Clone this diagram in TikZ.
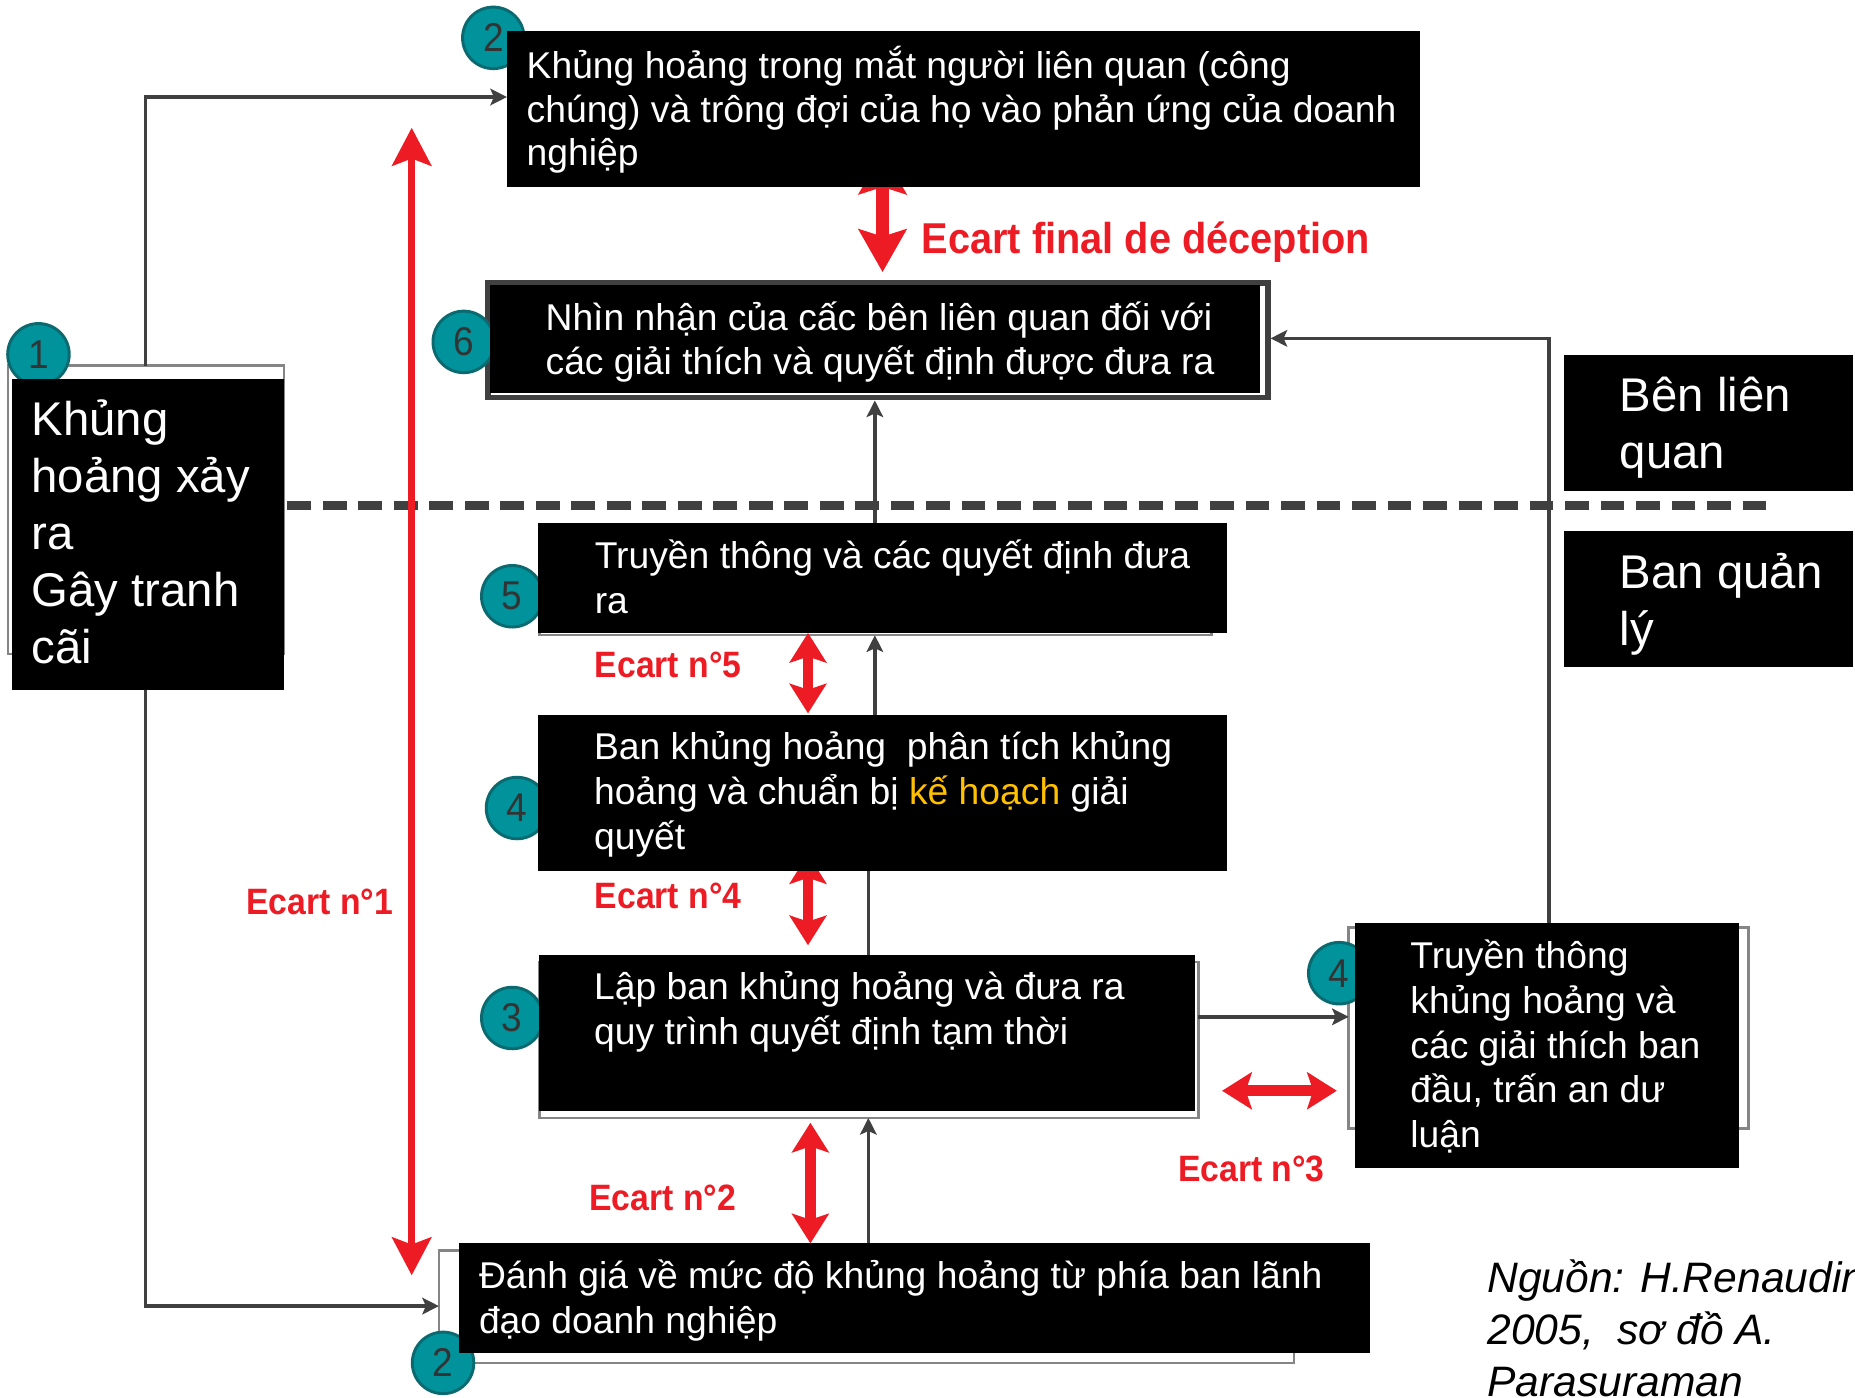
\documentclass[tikz,border=0pt]{standalone}
\usepackage{fontspec}
\setmainfont{Liberation Sans}
\newfontfamily\ecfont{Liberation Sans}[FakeStretch=0.92]
\usetikzlibrary{arrows.meta}
\definecolor{teala}{HTML}{00939B}
\definecolor{tealb}{HTML}{0B6A70}
\definecolor{dg}{HTML}{404040}
\definecolor{fr}{HTML}{858585}
\definecolor{rd}{HTML}{ED1C24}
\definecolor{yl}{HTML}{FFC000}
\definecolor{numc}{HTML}{333333}
\newcommand{\fs}{\rule{0pt}{1.2em}}
\newcommand{\nols}{\setlength{\lineskiplimit}{-1000pt}}
\newcommand{\fA}{\fontsize{31.5}{38}\selectfont\nols}
\newcommand{\fAs}{\fontsize{31.5}{37}\selectfont\nols}
\newcommand{\fAm}{\fontsize{31.5}{37.8}\selectfont\nols}
\newcommand{\fB}{\fontsize{40}{48.2}\selectfont\nols}
\newcommand{\fBs}{\fontsize{40}{48}\selectfont\nols}
\newcommand{\fSrc}{\itshape\fontsize{36}{44}\selectfont\nols}
\newcommand{\fEc}{\ecfont\bfseries\fontsize{31}{31}\selectfont}
\newcommand{\fEcL}{\ecfont\bfseries\fontsize{36.5}{36.5}\selectfont}
\newcommand{\fNum}{\ecfont\fontsize{34}{34}\selectfont}
\tikzset{
 frm/.style={draw=fr, line width=2pt, fill=white, inner sep=0pt, outer sep=0pt, anchor=north west},
 blk/.style={fill=black, inner sep=0pt, outer sep=0pt, anchor=north west},
 numc/.style={circle, fill=teala, draw=tealb, line width=2.5pt, minimum size=52pt, inner sep=0pt, text=numc, font=\fNum},
 conn/.style={draw=dg, line width=3pt},
 GT/.tip={Stealth[width=14pt,length=14pt,inset=3pt]},
 RS/.tip={Stealth[width=31pt,length=25pt,inset=5pt]},
 RL/.tip={Stealth[width=33pt,length=32pt,inset=6pt]},
 RF/.tip={Stealth[width=40pt,length=36pt,inset=6pt]},
 ra/.style={draw=rd, line width=#1},
 wt/.style={text=white, anchor=north west, inner sep=0pt, align=left, font=\fA},
 ec/.style={text=rd, anchor=base west, inner sep=0pt, font=\fEc},
}
\begin{document}
\begin{tikzpicture}[x=1pt,y=-1pt]
\useasboundingbox (0,0) rectangle (1568,1181);
\fill[white] (0,0) rectangle (1568,1181);

% dashed separator
\draw[draw=dg, line width=7.5pt, dash pattern=on 20pt off 10pt] (243,427.5) -- (1499,427.5);

% frames
\node[frm, minimum width=233pt, minimum height=244pt] (f1) at (7,309) {};
\node[frm, minimum width=568pt, minimum height=91pt] (f5) at (456,446) {};
\node[frm, minimum width=557pt, minimum height=132pt] (f3) at (456,813) {};
\node[frm, minimum width=338pt, minimum height=170pt] (f4b) at (1140,784) {};
\node[frm, minimum width=723pt, minimum height=95pt] (f2) at (371,1057) {};
\node[frm, draw=dg, line width=5pt, outer sep=2.5pt, minimum width=659pt, minimum height=97pt] (f6) at (410,236.5) {};

% helper coordinates
\coordinate (k1) at (123,82);
\coordinate (k2) at (123,1104);
\coordinate (k3) at (1080,859.5);
\coordinate (k4) at (1309.5,286);
\coordinate (xa) at (739.5,0);
\coordinate (xb) at (734,0);
\coordinate (yA) at (428.5,0);
\coordinate (y1b) at (0,583);
\coordinate (y4bt) at (0,780.5);
\coordinate (y5t) at (0,442);
\coordinate (y4t) at (0,604);
\coordinate (y3t) at (0,807);
\coordinate (y4s) at (0,736);
\coordinate (y2t) at (0,1050.5);

% gray connectors
\draw[conn, -GT] (f1.north -| k1) -- (k1) -- (k1 -| yA);
\draw[conn, -GT] (k2 |- y1b) -- (k2) -- (k2 -| f2.west);
\draw[conn, -GT] (f3.east |- k3) -- (f4b.west |- k3);
\draw[conn, -GT] (k4 |- y4bt) -- (k4) -- (k4 -| f6.east);
\draw[conn, -GT] (xa |- y5t) -- (xa |- f6.south);
\draw[conn, -GT] (xa |- y4t) -- (xa |- f5.south);
\draw[conn] (xb |- y3t) -- (xb |- y4s);
\draw[conn, -GT] (xb |- y2t) -- (xb |- f3.south);

% red gap arrows
\coordinate (rfT) at (746,128);   \coordinate (rfB) at (746,230);
\coordinate (r1T) at (348,108);   \coordinate (r1B) at (348,1078);
\coordinate (r5T) at (683,535);   \coordinate (r5B) at (683,603);
\coordinate (r4T) at (683,722);   \coordinate (r4B) at (683,799);
\coordinate (r2T) at (685,949);   \coordinate (r2B) at (685,1051);
\coordinate (r3L) at (1033,922);  \coordinate (r3R) at (1130,922);
\draw[ra=11pt, {RF}-{RF}] (rfT) -- (rfB);
\draw[ra=6pt, {RL}-{RL}] (r1T) -- (r1B);
\draw[ra=9pt, {RS}-{RS}] (r5T) -- (r5B);
\draw[ra=9pt, {RS}-{RS}] (r4T) -- (r4B);
\draw[ra=9pt, {RS}-{RS}] (r2T) -- (r2B);
\draw[ra=9pt, {RS}-{RS}] (r3L) -- (r3R);

% numbered circles
\node[numc] (c2t) at (417,32) {2};
\node[numc] (c1) at (32.5,299.5) {1};
\node[numc] (c6) at (392,289) {6};
\node[numc] (c5) at (433,504) {5};
\node[numc] (c4) at (437,683) {4};
\node[numc] (c3) at (433,860.5) {3};
\node[numc] (c4b) at (1132,822.6) {4};
\node[numc] (c2b) at (374.5,1152) {2};

% black boxes
\node[blk, minimum width=771.5pt, minimum height=132pt] (bA) at (428.5,26) {};
\node[blk, minimum width=651pt, minimum height=91pt] (b6) at (414,241) {};
\node[blk, minimum width=230pt, minimum height=263pt] (b1) at (10,320) {};
\node[blk, minimum width=582pt, minimum height=93pt] (b5) at (455,442) {};
\node[blk, minimum width=582pt, minimum height=132pt] (b4) at (455,604) {};
\node[blk, minimum width=554.4pt, minimum height=132pt] (b3) at (455.6,807) {};
\node[blk, minimum width=324.5pt, minimum height=207pt] (b4b) at (1145.5,780.5) {};
\node[blk, minimum width=770pt, minimum height=93pt] (b2) at (388,1050.5) {};
\node[blk, minimum width=244pt, minimum height=115pt] (bBen) at (1322,300) {};
\node[blk, minimum width=244pt, minimum height=115pt] (bBan) at (1322,449) {};

% box texts
\node[wt, font=\fAs] (tA) at (445,28.2)
 {\fs Khủng hoảng trong mắt người liên quan (công\\chúng) và trông đợi của họ vào phản ứng của doanh\\nghiệp};
\node[wt, font=\fAs] (t6) at (461,241.2)
 {\fs Nhìn nhận của cấc bên liên quan đối với\\các giải thích và quyết định được đưa ra};
\node[wt] (t5) at (502.6,442.2) {\fs Truyền thông và các quyết định đưa\\ra};
\node[wt] (t4) at (502,604.2) {\fs Ban khủng hoảng\ \ phân tích khủng\\hoảng và chuẩn bị \textcolor{yl}{kế hoạch} giải\\quyết};
\node[wt] (t3) at (502,807.2) {\fs Lập ban khủng hoảng và đưa ra\\quy trình quyết định tạm thời};
\node[wt, font=\fAm] (t4b) at (1192,780.7)
 {\fs Truyền thông\\khủng hoảng và\\các giải thích ban\\đầu, trấn an dư\\luận};
\node[wt] (t2) at (404.7,1051.2) {\fs Đánh giá về mức độ khủng hoảng từ phía ban lãnh\\đạo doanh nghiệp};
\node[wt, font=\fB] (t1) at (26.5,319.7) {\fs Khủng\\hoảng xảy\\ra\\Gây tranh\\cãi};
\node[wt, font=\fBs] (tBen) at (1369,300) {\fs Bên liên\\quan};
\node[wt, font=\fBs] (tBan) at (1369,449) {\fs Ban quản\\lý};

% red gap labels
\node[ec, font=\fEcL] (eF) at (779,214) {Ecart final de déception};
\node[ec] (e5) at (502.6,573) {Ecart n°5};
\node[ec] (e4) at (502.6,767.6) {Ecart n°4};
\node[ec] (e1) at (208,773) {Ecart n°1};
\node[ec] (e2) at (498,1023) {Ecart n°2};
\node[ec] (e3) at (995.6,999) {Ecart n°3};

% source (cut at the picture's edge, as in the reference)
\node[anchor=north west, inner sep=0pt, align=left, font=\fSrc] (src) at (1257,1048.8)
 {\fs Nguồn: H.Renaudin\\2005,\ \ sơ đồ A.\\Parasuraman};
\end{tikzpicture}
\end{document}
